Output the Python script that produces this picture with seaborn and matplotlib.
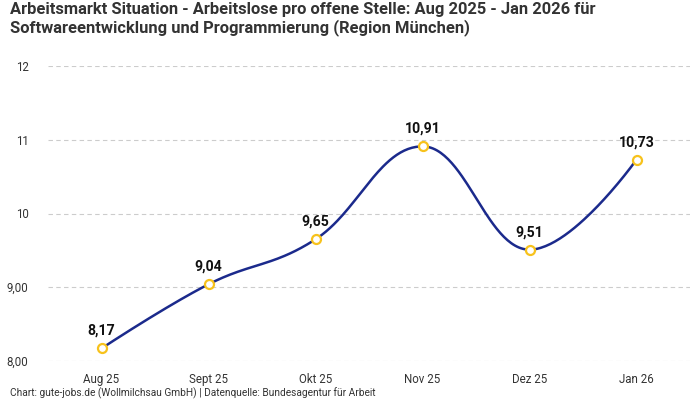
import numpy as np
import pandas as pd
import matplotlib
matplotlib.use("Agg")
import matplotlib.pyplot as plt
import seaborn as sns

months = ["Aug 25", "Sept 25", "Okt 25", "Nov 25", "Dez 25", "Jan 26"]
values = [8.17, 9.04, 9.65, 10.91, 9.51, 10.73]
value_labels = ["8,17", "9,04", "9,65", "10,91", "9,51", "10,73"]
ytick_vals = [8, 9, 10, 11, 12]
ytick_labels = ["8,00", "9,00", "10", "11", "12"]

title = ("Arbeitsmarkt Situation - Arbeitslose pro offene Stelle: Aug 2025 - Jan 2026 für\n"
         "Softwareentwicklung und Programmierung (Region München)")
footer = "Chart: gute-jobs.de (Wollmilchsau GmbH) | Datenquelle: Bundesagentur für Arbeit"

LINE = "#1b2a8c"
MARK = "#f7c21c"

sns.set_theme(style="white")
plt.rcParams["font.family"] = ["Roboto", "DejaVu Sans"]

df = pd.DataFrame({"month": months, "value": values})
df["x"] = np.arange(len(df))


def highcharts_spline(xs, ys, smoothing=1.5, n=60):
    xs = list(map(float, xs)); ys = list(map(float, ys))
    m = len(xs)
    rc = [(xs[i], ys[i]) for i in range(m)]
    lc = [(xs[i], ys[i]) for i in range(m)]
    denom = smoothing + 1
    for i in range(1, m - 1):
        px, py = xs[i], ys[i]
        lx, ly = xs[i - 1], ys[i - 1]
        nx, ny = xs[i + 1], ys[i + 1]
        lcx = (smoothing * px + lx) / denom
        lcy = (smoothing * py + ly) / denom
        rcx = (smoothing * px + nx) / denom
        rcy = (smoothing * py + ny) / denom
        if rcx != lcx:
            corr = ((rcy - lcy) * (rcx - px)) / (rcx - lcx) + py - rcy
            lcy += corr
            rcy += corr
        if lcy > ly and lcy > py:
            lcy = max(ly, py); rcy = 2 * py - lcy
        elif lcy < ly and lcy < py:
            lcy = min(ly, py); rcy = 2 * py - lcy
        if rcy > ny and rcy > py:
            rcy = max(ny, py); lcy = 2 * py - rcy
        elif rcy < ny and rcy < py:
            rcy = min(ny, py); lcy = 2 * py - rcy
        lc[i] = (lcx, lcy)
        rc[i] = (rcx, rcy)
    X, Y = [], []
    t = np.linspace(0, 1, n)
    for i in range(1, m):
        p0 = (xs[i - 1], ys[i - 1]); p1 = rc[i - 1]; p2 = lc[i]; p3 = (xs[i], ys[i])
        bx = (1 - t) ** 3 * p0[0] + 3 * (1 - t) ** 2 * t * p1[0] + 3 * (1 - t) * t ** 2 * p2[0] + t ** 3 * p3[0]
        by = (1 - t) ** 3 * p0[1] + 3 * (1 - t) ** 2 * t * p1[1] + 3 * (1 - t) * t ** 2 * p2[1] + t ** 3 * p3[1]
        X.extend(bx); Y.extend(by)
    return np.array(X), np.array(Y)


fig = plt.figure(figsize=(7, 4), dpi=100)
ax = fig.add_axes([48 / 700, 1 - 361 / 400, 642 / 700, 295 / 400])

sx, sy = highcharts_spline(df["x"], df["value"])
curve = pd.DataFrame({"x": sx, "y": sy})
sns.lineplot(data=curve, x="x", y="y", ax=ax, color=LINE, linewidth=1.8, sort=False, zorder=3)
sns.scatterplot(data=df, x="x", y="value", ax=ax, s=42, color="white",
                edgecolor=MARK, linewidth=1.6, zorder=4)

for xi, yi, lab in zip(df["x"], df["value"], value_labels):
    ax.annotate(lab, (xi, yi), xytext=(0, 7.5), textcoords="offset points",
                ha="center", va="bottom", fontsize=10.2, fontweight="bold", color="#111111", zorder=5)

ax.set_xlim(-0.5, len(months) - 0.5)
ax.set_ylim(8, 12)
ax.set_xticks(df["x"])
ax.set_xticklabels(months)
ax.set_yticks(ytick_vals)
ax.set_yticklabels(ytick_labels)
ax.tick_params(axis="both", length=0, labelsize=8.3, colors="#333333")
ax.tick_params(axis="x", pad=8.5)
ax.tick_params(axis="y", pad=14)
ax.set_xlabel("")
ax.set_ylabel("")
ax.grid(axis="y", color="#cccccc", linestyle=(0, (4, 3)), linewidth=0.8)
ax.grid(axis="x", visible=False)
for s in ax.spines.values():
    s.set_visible(False)

fig.text(10 / 700, 1 - 2 / 400, title, ha="left", va="top", fontsize=11.9,
         fontweight="bold", color="#333333", linespacing=1.15)
fig.text(10 / 700, 1 - 393 / 400, footer, ha="left", va="center", fontsize=7.3, color="#333333")

fig.savefig("out.png", dpi=100)
